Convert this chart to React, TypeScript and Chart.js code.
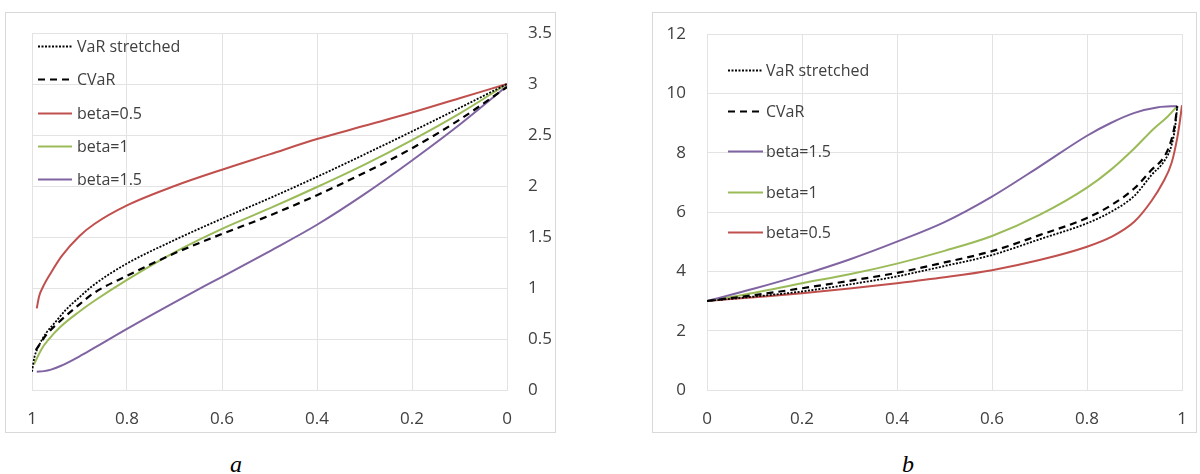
import React, { useEffect, useRef } from 'react';
import { Chart, registerables } from 'chart.js';

Chart.register(...registerables);

// ---------- Chart (a): x runs from 1 down to 0 ----------
const aVarP = [1, 0.995, 0.987, 0.97, 0.95, 0.93, 0.9, 0.87, 0.8, 0.7, 0.6, 0.5, 0.4, 0.3, 0.2, 0.1, 0];
const aVarV = [0.18, 0.32, 0.42, 0.56, 0.67, 0.78, 0.91, 1.03, 1.24, 1.47, 1.68, 1.88, 2.09, 2.31, 2.535, 2.765, 3.0];

const aCvarP = [0.992, 0.97, 0.94, 0.9, 0.87, 0.8, 0.7, 0.6, 0.5, 0.4, 0.3, 0.2, 0.1, 0];
const aCvarV = [0.39, 0.54, 0.68, 0.84, 0.95, 1.12, 1.34, 1.53, 1.71, 1.91, 2.13, 2.37, 2.65, 2.97];

const aB05P = [0.99, 0.985, 0.977, 0.96, 0.938, 0.9, 0.868, 0.8, 0.7, 0.6, 0.5, 0.4, 0.3, 0.2, 0.1, 0];
const aB05V = [0.8, 0.92, 1.01, 1.15, 1.31, 1.51, 1.63, 1.81, 2.0, 2.16, 2.31, 2.46, 2.59, 2.72, 2.86, 3.0];

const aB1P = [0.996, 0.98, 0.966, 0.94, 0.9, 0.87, 0.8, 0.7, 0.6, 0.5, 0.4, 0.3, 0.2, 0.1, 0];
const aB1V = [0.25, 0.4, 0.49, 0.62, 0.77, 0.87, 1.08, 1.35, 1.58, 1.78, 1.99, 2.21, 2.45, 2.71, 3.0];

const aB15P = [0.99, 0.975, 0.96, 0.94, 0.9, 0.87, 0.8, 0.7, 0.6, 0.5, 0.4, 0.3, 0.2, 0.1, 0];
const aB15V = [0.18, 0.185, 0.2, 0.235, 0.33, 0.41, 0.6, 0.86, 1.11, 1.36, 1.62, 1.92, 2.25, 2.6, 2.98];

const aXTicks = [1, 0.8, 0.6, 0.4, 0.2, 0];
const aXTickLabels = ['1', '0.8', '0.6', '0.4', '0.2', '0'];
const aYTicks = [0, 0.5, 1, 1.5, 2, 2.5, 3, 3.5];
const aYTickLabels = ['0', '0.5', '1', '1.5', '2', '2.5', '3', '3.5'];

// ---------- Chart (b): x runs from 0 to 1 ----------
const bVarP = [0, 0.1, 0.2, 0.3, 0.4, 0.5, 0.6, 0.7, 0.8, 0.85, 0.9, 0.936, 0.964, 0.978, 0.985, 0.99];
const bVarV = [3.0, 3.15, 3.32, 3.56, 3.83, 4.18, 4.55, 5.08, 5.62, 6.0, 6.55, 7.25, 7.75, 8.25, 8.8, 9.55];

const bCvarP = [0, 0.1, 0.2, 0.3, 0.4, 0.5, 0.6, 0.7, 0.8, 0.85, 0.9, 0.936, 0.964, 0.978, 0.985, 0.99];
const bCvarV = [3.0, 3.2, 3.43, 3.68, 3.95, 4.3, 4.68, 5.22, 5.8, 6.22, 6.8, 7.42, 7.9, 8.45, 8.95, 9.57];

const bB15P = [0, 0.1, 0.2, 0.3, 0.4, 0.5, 0.6, 0.7, 0.8, 0.85, 0.9, 0.95, 0.99];
const bB15V = [3.0, 3.42, 3.88, 4.4, 5.0, 5.66, 6.52, 7.53, 8.57, 9.0, 9.34, 9.53, 9.57];

const bB1P = [0, 0.1, 0.2, 0.3, 0.4, 0.5, 0.6, 0.7, 0.8, 0.85, 0.9, 0.94, 0.97, 0.99];
const bB1V = [3.0, 3.28, 3.6, 3.9, 4.26, 4.69, 5.19, 5.9, 6.82, 7.42, 8.15, 8.8, 9.22, 9.57];

const bB05P = [0, 0.1, 0.2, 0.3, 0.4, 0.5, 0.6, 0.7, 0.8, 0.85, 0.9, 0.936, 0.96, 0.978, 0.99, 0.995, 1.0];
const bB05V = [3.0, 3.13, 3.26, 3.42, 3.6, 3.8, 4.04, 4.38, 4.83, 5.15, 5.68, 6.38, 7.0, 7.65, 8.5, 9.0, 9.6];

const bXTicks = [0, 0.2, 0.4, 0.6, 0.8, 1];
const bXTickLabels = ['0', '0.2', '0.4', '0.6', '0.8', '1'];
const bYTicks = [0, 2, 4, 6, 8, 10, 12];
const bYTickLabels = ['0', '2', '4', '6', '8', '10', '12'];

// ---------- styling ----------
const RED = '#C0504D';
const GREEN = '#9BBB59';
const PURPLE = '#8064A2';
const BLACK = '#000000';
const GRID = '#e3e3e3';
const TEXT = '#404040';
const FONT = "'Open Sans', sans-serif";

const pts = (xs: number[], ys: number[]) => xs.map((x, i) => ({ x, y: ys[i] }));

const lineDs = (label: string, xs: number[], ys: number[], color: string, dash: number[], width: number) => ({
  label,
  data: pts(xs, ys),
  borderColor: color,
  backgroundColor: color,
  borderWidth: width,
  borderDash: dash,
  pointRadius: 0,
  fill: false,
  cubicInterpolationMode: 'monotone' as const,
});

const labelFor = (values: number[], labels: string[]) => (v: any) => {
  const i = values.findIndex((t) => Math.abs(t - Number(v)) < 1e-9);
  return i >= 0 ? labels[i] : '';
};

const insideLegend = (x0: number, x1: number, tx: number, y0: number, dy: number) => ({
  id: 'insideLegend',
  afterDatasetsDraw(chart: any) {
    const ctx = chart.ctx as CanvasRenderingContext2D;
    chart.data.datasets.forEach((ds: any, i: number) => {
      const y = Math.round(y0 + i * dy) + 0.5;
      ctx.save();
      ctx.strokeStyle = ds.borderColor;
      ctx.lineWidth = ds.borderWidth;
      ctx.setLineDash(ds.borderDash || []);
      ctx.beginPath();
      ctx.moveTo(x0, y);
      ctx.lineTo(x1, y);
      ctx.stroke();
      ctx.setLineDash([]);
      ctx.fillStyle = TEXT;
      ctx.font = `16px ${FONT}`;
      ctx.textBaseline = 'middle';
      ctx.textAlign = 'left';
      ctx.fillText(ds.label, tx, y + 1);
      ctx.restore();
    });
  },
});

const zeroPadding = (scale: any) => {
  scale.paddingTop = 0;
  scale.paddingBottom = 0;
  scale.paddingLeft = 0;
  scale.paddingRight = 0;
};

function makeScales(opts: {
  xTicks: number[]; xLabels: string[]; yTicks: number[]; yLabels: string[];
  reverse: boolean; yPos: 'left' | 'right'; yWidth: number; xHeight: number; yMax: number;
}) {
  return {
    x: {
      type: 'linear',
      min: 0,
      max: 1,
      reverse: opts.reverse,
      afterBuildTicks: (axis: any) => { axis.ticks = opts.xTicks.map((v) => ({ value: v })); },
      afterFit: (scale: any) => { scale.height = opts.xHeight; zeroPadding(scale); },
      grid: { color: GRID, drawTicks: false, lineWidth: 1 },
      border: { color: GRID, width: 1 },
      ticks: {
        callback: labelFor(opts.xTicks, opts.xLabels),
        color: TEXT,
        font: { family: FONT, size: 17 },
        padding: 19,
        maxRotation: 0,
        autoSkip: false,
      },
    },
    y: {
      type: 'linear',
      position: opts.yPos,
      min: 0,
      max: opts.yMax,
      afterBuildTicks: (axis: any) => { axis.ticks = opts.yTicks.map((v) => ({ value: v })); },
      afterFit: (scale: any) => { scale.width = opts.yWidth; zeroPadding(scale); },
      grid: { color: GRID, drawTicks: false, lineWidth: 1 },
      border: { color: GRID, width: 1 },
      ticks: {
        callback: labelFor(opts.yTicks, opts.yLabels),
        color: TEXT,
        font: { family: FONT, size: 17 },
        padding: 21,
        autoSkip: false,
      },
    },
  };
}

function ChartBox({ config, left, top, width, height }: any) {
  const ref = useRef<HTMLCanvasElement | null>(null);
  useEffect(() => {
    if (!ref.current) return;
    const chart = new Chart(ref.current, config);
    return () => chart.destroy();
  }, [config]);
  return (
    <>
      <div
        style={{
          position: 'absolute', left, top, width, height,
          border: '1px solid #d9d9d9', boxSizing: 'border-box', background: '#fff',
        }}
      />
      <canvas
        ref={ref}
        width={width}
        height={height}
        style={{ position: 'absolute', left, top, width, height }}
      />
    </>
  );
}

const configA: any = {
  type: 'line',
  data: {
    datasets: [
      lineDs('VaR stretched', aVarP, aVarV, BLACK, [2, 1.5], 1.8),
      lineDs('CVaR', aCvarP, aCvarV, BLACK, [7, 5], 2.2),
      lineDs('beta=0.5', aB05P, aB05V, RED, [], 2),
      lineDs('beta=1', aB1P, aB1V, GREEN, [], 2),
      lineDs('beta=1.5', aB15P, aB15V, PURPLE, [], 2),
    ],
  },
  options: {
    animation: false,
    responsive: false,
    devicePixelRatio: 1,
    layout: { padding: { left: 27, top: 21, right: 0, bottom: 0 } },
    plugins: { legend: { display: false }, tooltip: { enabled: false } },
    scales: makeScales({
      xTicks: aXTicks, xLabels: aXTickLabels, yTicks: aYTicks, yLabels: aYTickLabels,
      reverse: true, yPos: 'right', yWidth: 49, xHeight: 43, yMax: 3.5,
    }),
  },
  plugins: [insideLegend(33, 67, 72, 34, 33.3)],
};

const configB: any = {
  type: 'line',
  data: {
    datasets: [
      lineDs('VaR stretched', bVarP, bVarV, BLACK, [2, 1.5], 1.8),
      lineDs('CVaR', bCvarP, bCvarV, BLACK, [7, 5], 2.2),
      lineDs('beta=1.5', bB15P, bB15V, PURPLE, [], 2),
      lineDs('beta=1', bB1P, bB1V, GREEN, [], 2),
      lineDs('beta=0.5', bB05P, bB05V, RED, [], 2),
    ],
  },
  options: {
    animation: false,
    responsive: false,
    devicePixelRatio: 1,
    layout: { padding: { left: 0, top: 22, right: 15, bottom: 0 } },
    plugins: { legend: { display: false }, tooltip: { enabled: false } },
    scales: makeScales({
      xTicks: bXTicks, xLabels: bXTickLabels, yTicks: bYTicks, yLabels: bYTickLabels,
      reverse: false, yPos: 'left', yWidth: 55, xHeight: 43, yMax: 12,
    }),
  },
  plugins: [insideLegend(76, 111, 114, 58, 40.5)],
};

const captionStyle: React.CSSProperties = {
  position: 'absolute',
  width: 60,
  textAlign: 'center',
  fontFamily: "'Liberation Serif', 'Times New Roman', serif",
  fontStyle: 'italic',
  fontSize: 24,
  lineHeight: '24px',
  color: '#000',
};

export default function App() {
  return (
    <div style={{ position: 'absolute', left: 0, top: 0, width: 1200, height: 474, background: '#fff' }}>
      <ChartBox config={configA} left={5} top={12} width={551} height={421} />
      <ChartBox config={configB} left={652} top={12} width={545} height={421} />
      <div style={{ ...captionStyle, left: 206, top: 452 }}>a</div>
      <div style={{ ...captionStyle, left: 878, top: 452 }}>b</div>
    </div>
  );
}
